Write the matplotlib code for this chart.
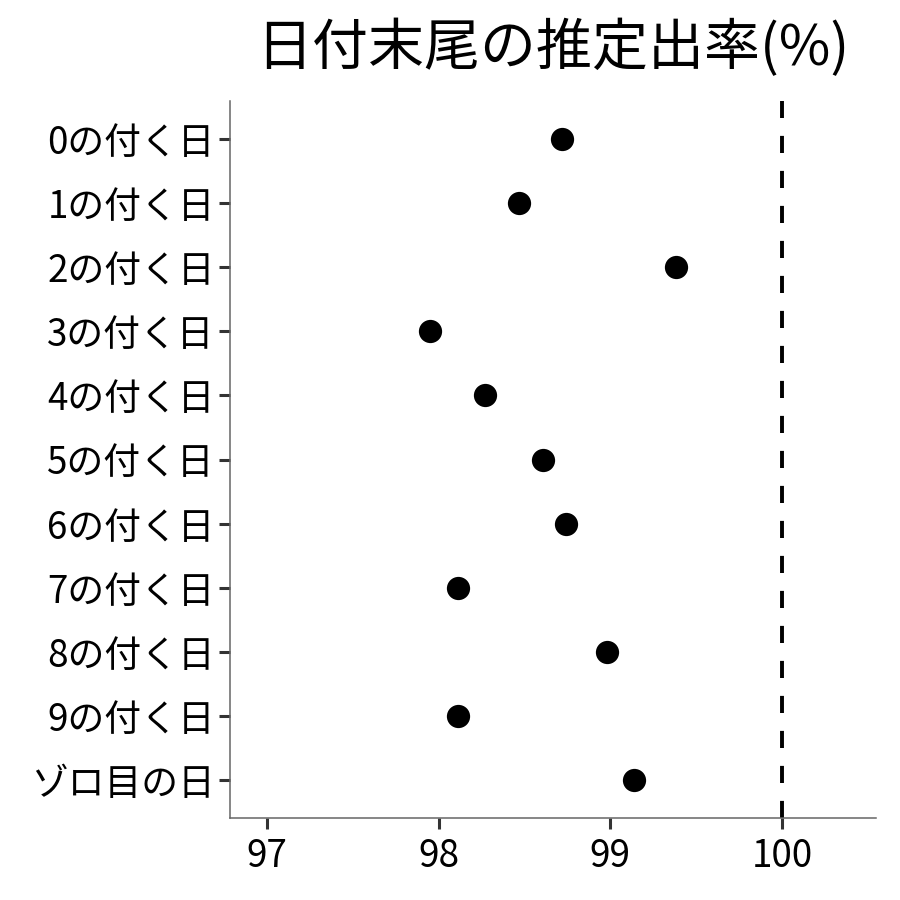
import matplotlib
matplotlib.use("Agg")
import matplotlib.pyplot as plt

plt.rcParams['font.family'] = ['Noto Sans CJK JP', 'DejaVu Sans']

categories = ["0の付く日", "1の付く日", "2の付く日", "3の付く日", "4の付く日",
              "5の付く日", "6の付く日", "7の付く日", "8の付く日", "9の付く日", "ゾロ目の日"]
rates = [98.72, 98.47, 99.38, 97.95, 98.27, 98.61, 98.74, 98.11, 98.98, 98.11, 99.14]
xticks = [97, 98, 99, 100]
ref_line = 100
title = "日付末尾の推定出率(%)"

fig = plt.figure(figsize=(9, 9), dpi=100)
ax = fig.add_axes([230/900, 1-818/900, (876-230)/900, (818-101)/900])

n = len(categories)
ypos = list(range(n))[::-1]
ax.scatter(rates, ypos, s=280, color='black', zorder=3, linewidths=0)
ax.axvline(ref_line, color='black', linewidth=2.8, linestyle=(0, (4.4, 4.6)), zorder=2)

ax.set_xlim(96.785, 100.547)
ax.set_ylim(-0.59, n - 1 + 0.59)
ax.set_yticks(ypos)
ax.set_yticklabels(categories)
ax.set_xticks(xticks)
ax.set_xticklabels([str(x) for x in xticks])

for s in ['top', 'right']:
    ax.spines[s].set_visible(False)
for s in ['left', 'bottom']:
    ax.spines[s].set_color('#666666')
    ax.spines[s].set_linewidth(1.1)
ax.tick_params(axis='both', colors='#333333', length=8, width=2.2, labelsize=26.5, labelcolor='black', pad=3)
ax.tick_params(axis='x', pad=6)

fig.text((230+876)/2/900, 1-49/900, title, ha='center', va='center', fontsize=40.3, color='black')

fig.savefig('out.png', dpi=100, facecolor='white')
